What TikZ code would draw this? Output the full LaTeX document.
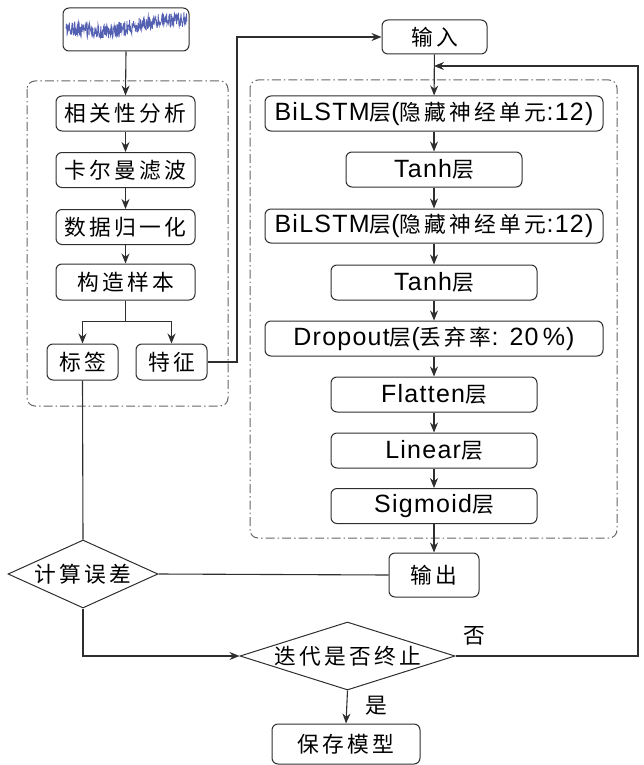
\documentclass[tikz,border=0pt]{standalone}
\usepackage{fontspec}
\setmainfont{Liberation Sans}[LetterSpace=5]
\newfontfamily\cjk{Noto Sans CJK SC}[LetterSpace=15,Scale=0.87]
\newcommand{\zhs}[1]{{\cjk #1}}
\usetikzlibrary{arrows.meta,shapes.geometric,calc}
\definecolor{ln}{HTML}{2E2E2E}
\definecolor{sigblue}{HTML}{5460B2}
\tikzset{
  box/.style={draw=ln,line width=1pt,rounded corners=6pt,inner sep=0pt,align=center,
    font=\fontsize{25}{28}\selectfont},
  dia/.style={draw=ln,line width=1pt,diamond,inner sep=-6pt,align=center,
    font=\fontsize{25}{28}\selectfont},
  arr/.style={draw=ln,line width=1.1pt,-{Stealth[length=10pt,width=8pt]}},
  con/.style={draw=ln,line width=1.1pt},
  dd/.style={draw=gray!80!black,line width=1pt,rounded corners=8pt,dash pattern=on 9pt off 3pt on 1.5pt off 3pt},
  lbl/.style={font=\fontsize{25}{28}\selectfont,inner sep=0pt}
}
\begin{document}
\begin{tikzpicture}[x=1pt,y=-1pt]
\useasboundingbox (0,0) rectangle (643,765);
% dash-dot groups
\draw[dd] (27,81) rectangle (228,406);
\draw[dd] (250,80) rectangle (617,538);
% signal
\node[box,minimum width=126pt,minimum height=43pt] (sig) at (126,29.5) {};
\pgfmathsetseed{7}
\draw[sigblue,line width=0.8pt] plot[domain=0:1,samples=330] ({66+121*\x},{27+5*sin(300*\x)-3*\x+7.5*rand});
% left chain
\node[box,minimum width=139pt,minimum height=35pt] (a1) at (125.5,113.5) {\zhs{相关性分析}};
\node[box,minimum width=139pt,minimum height=35pt] (a2) at (125.5,170) {\zhs{卡尔曼滤波}};
\node[box,minimum width=139pt,minimum height=35pt] (a3) at (125.5,227) {\zhs{数据归一化}};
\node[box,minimum width=139pt,minimum height=36pt] (a4) at (125.5,282) {\zhs{构造样本}};
\node[box,minimum width=71pt,minimum height=36pt] (lab) at (82.5,362) {\zhs{标签}};
\node[box,minimum width=71pt,minimum height=36pt] (fea) at (171.5,362) {\zhs{特征}};
% right chain
\node[box,minimum width=105pt,minimum height=34pt] (inp) at (434.5,37) {\zhs{输入}};
\node[box,minimum width=338pt,minimum height=35pt] (b1) at (434,113.5) {BiLSTM\zhs{层}(\zhs{隐藏神经单元}:12)};
\node[box,minimum width=176pt,minimum height=35pt] (b2) at (434,169.5) {Tanh\zhs{层}};
\node[box,minimum width=338pt,minimum height=34pt] (b3) at (434,226) {BiLSTM\zhs{层}(\zhs{隐藏神经单元}:12)};
\node[box,minimum width=206pt,minimum height=35pt] (b4) at (434,282.5) {Tanh\zhs{层}};
\node[box,minimum width=338pt,minimum height=35pt] (b5) at (434,338.5) {Dropout\zhs{层}(\zhs{丢弃率}: 20\,\%)};
\node[box,minimum width=206pt,minimum height=35pt] (b6) at (434,394.5) {Flatten\zhs{层}};
\node[box,minimum width=206pt,minimum height=35pt] (b7) at (434,450.5) {Linear\zhs{层}};
\node[box,minimum width=206pt,minimum height=35pt] (b8) at (434,506) {Sigmoid\zhs{层}};
\node[box,minimum width=90pt,minimum height=44pt] (out) at (434,575) {\zhs{输出}};
% decisions
\node[dia,minimum width=150pt,minimum height=68pt,aspect=2.2] (err) at (83,574) {\zhs{计算误差}};
\node[dia,minimum width=215pt,minimum height=68pt,aspect=3.16] (itr) at (347.5,656) {\zhs{迭代是否终止}};
\node[box,minimum width=148pt,minimum height=40pt] (save) at (346,744) {\zhs{保存模型}};
\node[lbl] (no) at (474,636) {\zhs{否}};
\node[lbl] (yes) at (376,706) {\zhs{是}};
% coordinates
\coordinate (c1) at (237,37);
\coordinate (fb) at (434,66);
\coordinate (fbr) at (638,66);
% connectors
\draw[arr] (sig.south) -- (a1.north);
\draw[arr] (a1) -- (a2);
\draw[arr] (a2) -- (a3);
\draw[arr] (a3) -- (a4);
\draw[arr] (a4.south) -- ++(0,21) -| (lab.north);
\draw[arr] (a4.south) -- ++(0,21) -| (fea.north);
\draw[arr] (fea.east) -| (c1) -- (inp.west);
\draw[arr] (inp) -- (b1);
\draw[arr] (b1) -- (b2);
\draw[arr] (b2) -- (b3);
\draw[arr] (b3) -- (b4);
\draw[arr] (b4) -- (b5);
\draw[arr] (b5) -- (b6);
\draw[arr] (b6) -- (b7);
\draw[arr] (b7) -- (b8);
\draw[arr] (b8) -- (out);
\draw[con] (out.west) -- (err.east);
\draw[con] (lab.south) -- (err.north);
\draw[arr] (err.south) |- (itr.west);
\draw[arr] (itr.east) -| (fbr) -- (fb);
\draw[arr] (itr.south) -- (save.north);
\end{tikzpicture}
\end{document}
